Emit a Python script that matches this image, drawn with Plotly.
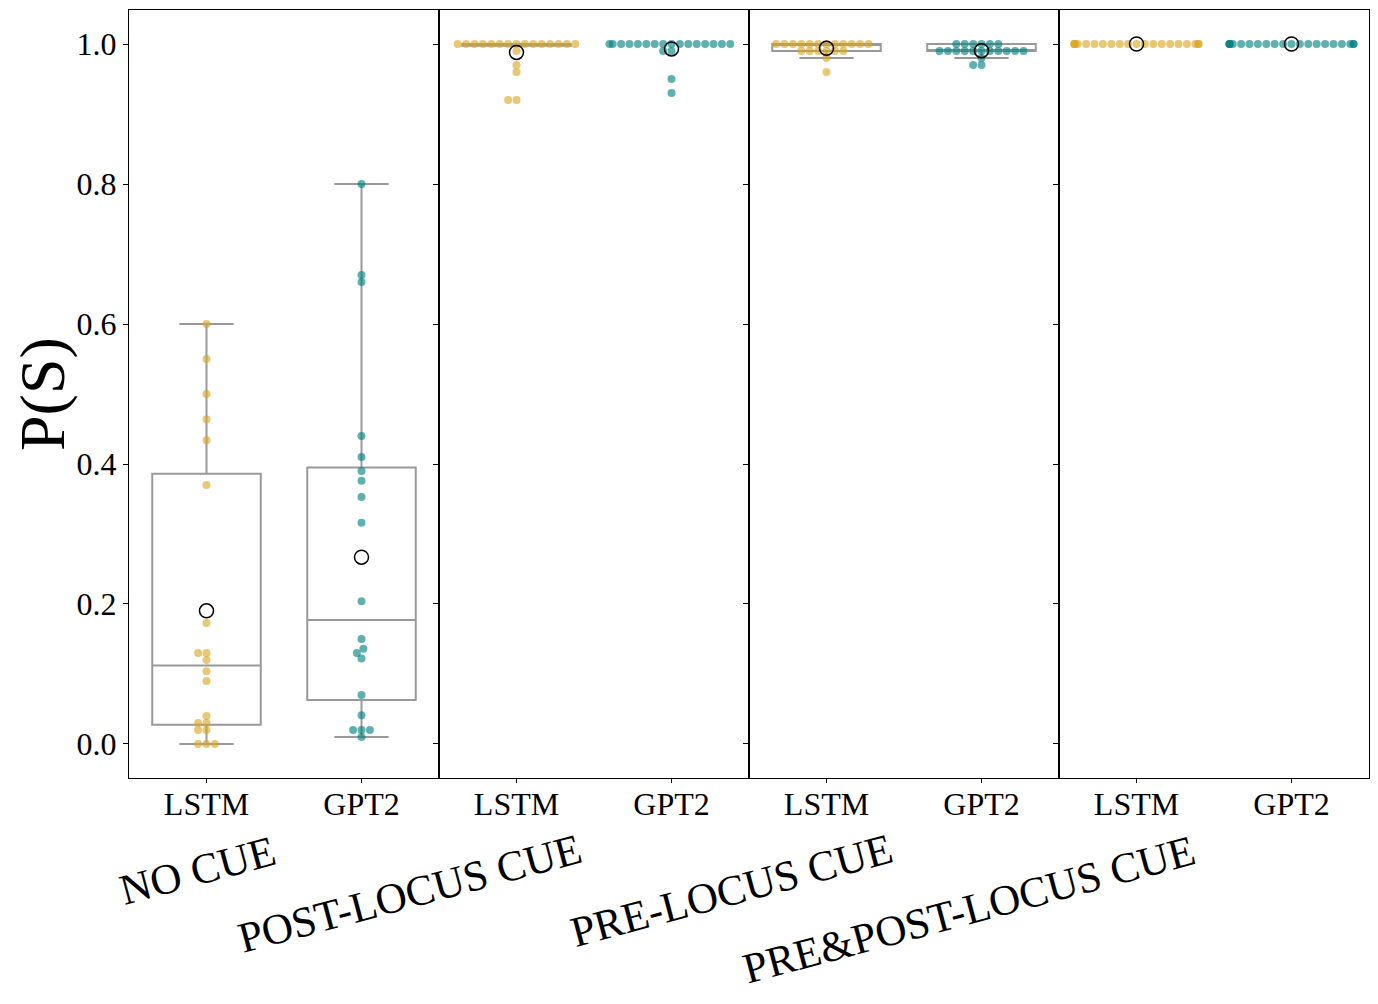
import numpy as np
import plotly.graph_objects as go
from plotly.subplots import make_subplots

# ---------------- data ----------------
conditions = ["NO CUE", "POST-LOCUS CUE", "PRE-LOCUS CUE", "PRE&amp;POST-LOCUS CUE"]
models = ["LSTM", "GPT2"]
y_ticks = [0.0, 0.2, 0.4, 0.6, 0.8, 1.0]
y_tick_labels = ["0.0", "0.2", "0.4", "0.6", "0.8", "1.0"]

lstm_no_cue = [0.60, 0.55, 0.50, 0.464, 0.434, 0.37, 0.173, 0.13, 0.13, 0.12,
               0.104, 0.09, 0.04, 0.03, 0.03, 0.02, 0.02, 0.0, 0.0, 0.0]
gpt2_no_cue = [0.80, 0.67, 0.66, 0.44, 0.41, 0.39, 0.376, 0.353, 0.316, 0.204,
               0.15, 0.136, 0.13, 0.122, 0.07, 0.041, 0.02, 0.02, 0.02, 0.01]

lstm_post = [1.0, 1.0, 1.0, 1.0, 1.0, 1.0, 1.0, 1.0, 1.0, 1.0,
             1.0, 1.0, 1.0, 1.0, 1.0, 0.99, 0.97, 0.96, 0.92, 0.92]
gpt2_post = [1.0, 1.0, 1.0, 1.0, 1.0, 1.0, 1.0, 1.0, 1.0, 1.0,
             1.0, 1.0, 1.0, 1.0, 1.0, 1.0, 0.99, 0.99, 0.95, 0.93]

lstm_pre = [1.0, 1.0, 1.0, 1.0, 1.0, 1.0, 1.0, 1.0, 1.0, 1.0,
            1.0, 1.0, 0.99, 0.99, 0.99, 0.99, 0.99, 0.99, 0.98, 0.96]
gpt2_pre = [1.0, 1.0, 1.0, 1.0, 1.0, 1.0, 0.99, 0.99, 0.99, 0.99,
            0.99, 0.99, 0.99, 0.99, 0.99, 0.99, 0.99, 0.98, 0.97, 0.97]

lstm_both = [1.0, 1.0, 1.0, 1.0, 1.0, 1.0, 1.0, 1.0, 1.0, 1.0,
             1.0, 1.0, 1.0, 1.0, 1.0, 1.0, 1.0, 1.0, 1.0, 1.0]
gpt2_both = [1.0, 1.0, 1.0, 1.0, 1.0, 1.0, 1.0, 1.0, 1.0, 1.0,
             1.0, 1.0, 1.0, 1.0, 1.0, 1.0, 1.0, 1.0, 1.0, 1.0]

panels = [(lstm_no_cue, gpt2_no_cue), (lstm_post, gpt2_post),
          (lstm_pre, gpt2_pre), (lstm_both, gpt2_both)]

# ---------------- styling ----------------
W, H = 1378, 1004
ML, MR, MT, MB = 129, 9, 10, 226
FONT = "Liberation Serif"
colors = ["rgba(218,165,32,0.62)", "rgba(0,128,128,0.62)"]
box_color = "#999999"
Y_RANGE = [-0.0486, 1.0486]
X_RANGE = [-0.5, 1.5]

panel_w_px = (W - ML - MR) / 4
plot_h_px = H - MT - MB
x_px_per_unit = panel_w_px / (X_RANGE[1] - X_RANGE[0])
y_px_per_unit = plot_h_px / (Y_RANGE[1] - Y_RANGE[0])
MARKER = 8


def swarm_offsets(vals, d=8.4, yscale=1.25, half=0.4):
    """Simple deterministic beeswarm layout (offsets in data units)."""
    vals = np.asarray(vals, dtype=float)
    order = np.argsort(vals, kind="stable")
    placed = []
    offs = np.zeros(len(vals))
    for i in order:
        y = vals[i] * y_px_per_unit * yscale
        cands = [0.0]
        for px, py in placed:
            dy = abs(py - y)
            if dy < d:
                dx = np.sqrt(d * d - dy * dy)
                cands += [px - dx, px + dx]
        cands = sorted(set(round(c, 6) for c in cands), key=lambda c: (round(abs(c), 4), c))
        chosen = 0.0
        for c in cands:
            if all((c - px) ** 2 + (y - py) ** 2 >= d * d - 1e-3 for px, py in placed):
                chosen = c
                break
        placed.append((chosen, y))
        offs[i] = chosen
    return np.clip(offs / x_px_per_unit, -half, half)


def box_stats(vals):
    v = np.asarray(vals, dtype=float)
    q1, med, q3 = np.percentile(v, [25, 50, 75])
    iqr = q3 - q1
    lo = v[v >= q1 - 1.5 * iqr].min()
    hi = v[v <= q3 + 1.5 * iqr].max()
    return q1, med, q3, lo, hi


fig = make_subplots(rows=1, cols=4, shared_yaxes=True, horizontal_spacing=0)

for p, pair in enumerate(panels):
    col = p + 1
    # boxes
    for m, vals in enumerate(pair):
        q1, med, q3, lo, hi = box_stats(vals)
        if q3 > q1:
            fig.add_trace(go.Box(
                x=[m], q1=[q1], median=[med], q3=[q3],
                lowerfence=[lo], upperfence=[hi],
                width=0.7, whiskerwidth=0.5,
                line=dict(color=box_color, width=2),
                fillcolor="rgba(0,0,0,0)", boxpoints=False,
                hoverinfo="skip", showlegend=False,
            ), row=1, col=col)
    # swarm points
    for m, vals in enumerate(pair):
        off = swarm_offsets(vals)
        fig.add_trace(go.Scatter(
            x=m + off, y=vals, mode="markers",
            marker=dict(size=MARKER, color=colors[m], line=dict(width=0)),
            showlegend=False, hoverinfo="skip",
        ), row=1, col=col)
    # means
    for m, vals in enumerate(pair):
        fig.add_trace(go.Scatter(
            x=[m], y=[float(np.mean(vals))], mode="markers",
            marker=dict(size=14, symbol="circle-open", color="black",
                        line=dict(width=1.5, color="black")),
            showlegend=False, hoverinfo="skip",
        ), row=1, col=col)

    fig.update_xaxes(
        range=X_RANGE, tickmode="array", tickvals=[0, 1], ticktext=models,
        ticks="outside", ticklen=4, tickcolor="black",
        showline=True, linecolor="black", linewidth=1, mirror=True,
        showgrid=False, zeroline=False, ticklabelstandoff=-6,
        tickfont=dict(family=FONT, size=32, color="black"),
        row=1, col=col)
    fig.update_yaxes(
        range=Y_RANGE, tickmode="array", tickvals=y_ticks, ticktext=y_tick_labels,
        ticks="outside", ticklen=5, tickcolor="black",
        showline=True, linecolor="black", linewidth=1, mirror=True,
        showgrid=False, zeroline=False, showticklabels=(col == 1),
        tickfont=dict(family=FONT, size=32, color="black"),
        row=1, col=col)

# y-axis title
fig.add_annotation(text="P(S)", xref="paper", yref="paper",
                   x=(42 - ML) / (W - ML - MR), y=0.5,
                   xanchor="center", yanchor="middle", textangle=-90,
                   showarrow=False, font=dict(family=FONT, size=64, color="black"))

# rotated condition labels
label_centers = [(197, 870), (409, 893), (731, 890), (969, 909)]
for text, (cx, cy) in zip(conditions, label_centers):
    fig.add_annotation(text=text, xref="paper", yref="paper",
                       x=(cx - ML) / (W - ML - MR),
                       y=(H - MB - cy) / plot_h_px,
                       xanchor="center", yanchor="middle", textangle=-15,
                       showarrow=False, font=dict(family=FONT, size=43, color="black"))

fig.update_layout(
    width=W, height=H, autosize=False,
    margin=dict(l=ML, r=MR, t=MT, b=MB),
    paper_bgcolor="white", plot_bgcolor="white",
    font=dict(family=FONT, color="black"),
    showlegend=False,
)

fig.write_html("out.html", config={"displayModeBar": False},
               post_script="document.body.style.margin='0';")
